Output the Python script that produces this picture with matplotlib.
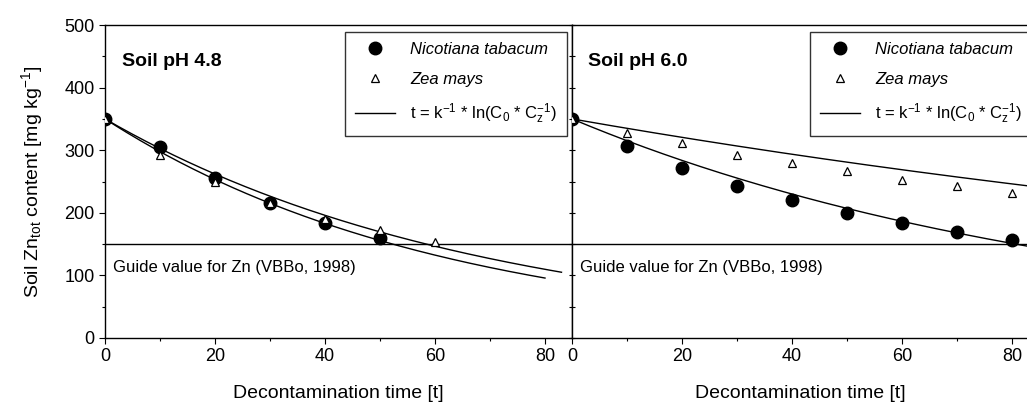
import numpy as np
import matplotlib
matplotlib.use("Agg")
import matplotlib.pyplot as plt
from matplotlib.ticker import MultipleLocator

plt.rcParams['font.family'] = ['Liberation Sans', 'DejaVu Sans']
plt.rcParams['mathtext.fontset'] = 'custom'
plt.rcParams['mathtext.rm'] = 'Liberation Sans'
plt.rcParams['mathtext.it'] = 'Liberation Sans:italic'

# Soil pH 4.8
t_nt_48 = [0, 10, 20, 30, 40, 50]
c_nt_48 = [350, 305, 256, 215, 183, 160]
t_zm_48 = [0, 10, 20, 30, 40, 50, 60]
c_zm_48 = [350, 292, 250, 215, 190, 172, 153]

# Soil pH 6.0
t_nt_60 = [0, 10, 20, 30, 40, 50, 60, 70, 80]
c_nt_60 = [350, 306, 272, 243, 220, 200, 183, 169, 156]
t_zm_60 = [0, 10, 20, 30, 40, 50, 60, 70, 80]
c_zm_60 = [350, 328, 311, 293, 279, 266, 253, 243, 231]

# first-order decay fits C = C0 * exp(-k t)
c0 = 350
k_nt_48, tend_nt_48 = 0.0162, 80
k_zm_48, tend_zm_48 = 0.0145, 83
k_nt_60, tend_nt_60 = 0.0105, 83
k_zm_60, tend_zm_60 = 0.0044, 83

guide = 150

fig = plt.figure(figsize=(10.27, 4.16), dpi=100)
ax1 = fig.add_axes([105/1027, 1 - 338/416, 467/1027, 313/416])
ax2 = fig.add_axes([572/1027, 1 - 338/416, 456/1027, 313/416])

fit_label = r't = k$^{\mathregular{-1}}$ * ln(C$_{\mathregular{0}}$ * C$_{\mathregular{z}}^{\mathregular{-1}}$)'

def panel(ax, tn, cn, tz, cz, kn, tn_end, kz, tz_end, title, xmax, anchor_x):
    tt = np.linspace(0, tn_end, 200)
    ax.plot(tt, c0 * np.exp(-kn * tt), color='black', lw=1.0, label=fit_label, zorder=2)
    tt = np.linspace(0, tz_end, 200)
    ax.plot(tt, c0 * np.exp(-kz * tt), color='black', lw=1.0, zorder=2)
    ax.plot(tn, cn, 'o', color='black', ms=9, label='Nicotiana tabacum', zorder=3)
    ax.plot(tz, cz, '^', mfc='white', mec='black', mew=0.9, ms=6, label='Zea mays', zorder=4)
    ax.axhline(guide, color='black', lw=1.0, zorder=1)
    ax.text(1.5, 113, 'Guide value for Zn (VBBo, 1998)', fontsize=12, va='center')
    ax.text(3, 441, title, fontsize=14, fontweight='bold', va='center')
    ax.set_xlim(0, xmax)
    ax.set_ylim(0, 500)
    ax.xaxis.set_major_locator(MultipleLocator(20))
    ax.xaxis.set_minor_locator(MultipleLocator(10))
    ax.yaxis.set_major_locator(MultipleLocator(100))
    ax.yaxis.set_minor_locator(MultipleLocator(50))
    ax.tick_params(labelsize=13, length=4, width=0.8, direction='out')
    ax.tick_params(which='minor', length=2.5, width=0.8, direction='out')
    ax.set_xlabel('Decontamination time [t]', fontsize=14, labelpad=14)
    h, l = ax.get_legend_handles_labels()
    order = [1, 2, 0]
    leg = ax.legend([h[i] for i in order], [l[i] for i in order],
                    loc='upper right', bbox_to_anchor=(anchor_x, 0.995),
                    fontsize=12, frameon=True, fancybox=False,
                    edgecolor='black', borderpad=0.6, labelspacing=0.9,
                    handlelength=2.4, handletextpad=0.9, borderaxespad=0.3)
    leg.get_frame().set_linewidth(1.0)
    for txt in leg.get_texts()[:2]:
        txt.set_fontstyle('italic')

panel(ax1, t_nt_48, c_nt_48, t_zm_48, c_zm_48, k_nt_48, tend_nt_48,
      k_zm_48, tend_zm_48, 'Soil pH 4.8', 467 / 5.5, 1.0)
panel(ax2, t_nt_60, c_nt_60, t_zm_60, c_zm_60, k_nt_60, tend_nt_60,
      k_zm_60, tend_zm_60, 'Soil pH 6.0', 456 / 5.5, 1.02)

ax1.set_ylabel(r'Soil Zn$_{\mathregular{tot}}$ content [mg kg$^{\mathregular{-1}}$]', fontsize=14, labelpad=14)
ax2.tick_params(axis='y', labelleft=False, direction='inout', length=5)
ax2.tick_params(axis='y', which='minor', direction='inout', length=5)
ax2.spines['right'].set_visible(False)

for ax in (ax1, ax2):
    for s in ax.spines.values():
        s.set_linewidth(1.0)

fig.savefig('out.png', dpi=100)
